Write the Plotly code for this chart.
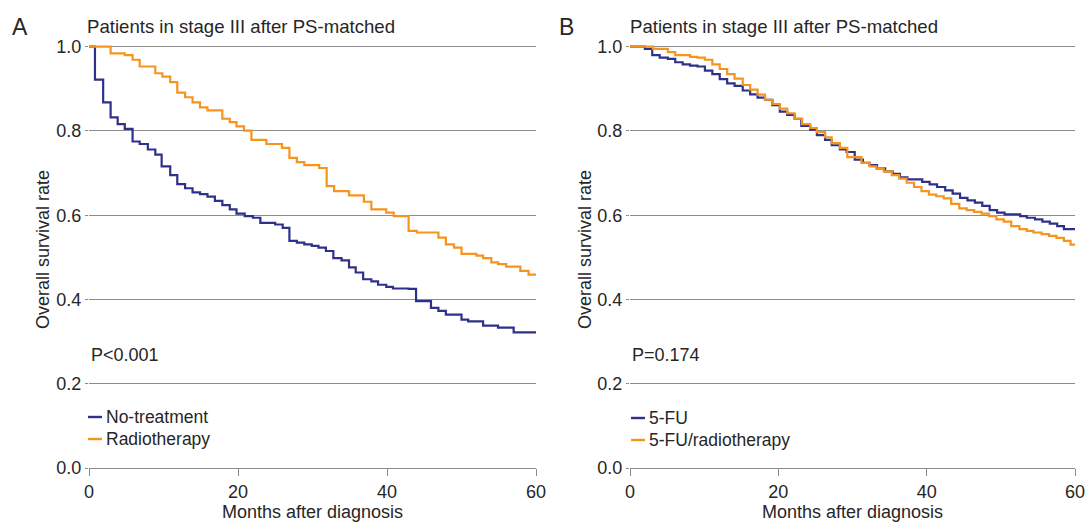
import plotly.graph_objects as go
from plotly.subplots import make_subplots

# ---------------- data ----------------
# Panel A: No-treatment vs Radiotherapy
months_a_none = [0, 0.8, 1.9, 2.9, 3.85, 4.8, 5.85, 6.8, 7.9, 8.9,
                 9.75, 10.9, 11.85, 12.9, 13.9, 14.9, 15.9, 16.9, 17.9, 18.9,
                 19.8, 20.9, 22, 23, 25, 26, 26.9, 27.9, 28.9, 29.9,
                 30.8, 31.8, 32.8, 33.9, 34.9, 35.8, 36.8, 37.9, 38.8, 39.9,
                 40.8, 42.9, 43.9, 45.9, 46.9, 47.9, 50, 50.9, 52.9, 54.9,
                 57, 60]
surv_a_none = [1.0, 0.922, 0.868, 0.832, 0.816, 0.805, 0.775, 0.769, 0.756, 0.744,
               0.716, 0.695, 0.674, 0.664, 0.654, 0.650, 0.644, 0.634, 0.624, 0.614,
               0.604, 0.598, 0.594, 0.582, 0.578, 0.570, 0.539, 0.535, 0.531, 0.527,
               0.523, 0.515, 0.498, 0.493, 0.476, 0.464, 0.448, 0.443, 0.435, 0.430,
               0.426, 0.425, 0.396, 0.380, 0.373, 0.364, 0.352, 0.348, 0.338, 0.333,
               0.322, 0.322]

months_a_rt = [0, 2.9, 4.8, 5.85, 6.8, 8.9, 9.85, 10.9, 11.85, 12.9,
               13.9, 14.9, 15.9, 17.9, 18.9, 19.8, 20.8, 21.8, 23.8, 25.9,
               26.9, 27.9, 28.9, 30.9, 31.9, 32.9, 34.9, 36.9, 37.9, 39.9,
               40.9, 42.9, 44, 46.9, 47.9, 49, 50, 52, 52.9, 54,
               54.9, 56, 57.9, 59, 60]
surv_a_rt = [1.0, 0.984, 0.980, 0.969, 0.953, 0.937, 0.929, 0.916, 0.891, 0.880,
             0.868, 0.856, 0.849, 0.829, 0.821, 0.811, 0.801, 0.779, 0.769, 0.760,
             0.736, 0.726, 0.719, 0.712, 0.669, 0.657, 0.647, 0.632, 0.614, 0.606,
             0.598, 0.563, 0.559, 0.547, 0.531, 0.523, 0.508, 0.504, 0.498, 0.488,
             0.484, 0.478, 0.468, 0.459, 0.459]

# Panel B: 5-FU vs 5-FU/radiotherapy
months_b_fu = [0, 2.0, 3.0, 4.0, 5.1, 6.1, 7.1, 8.1, 9.1, 10.1,
               11.1, 12.1, 13.1, 14.1, 15.2, 16.2, 17.2, 18.2, 19.2, 20.2,
               21.2, 22.2, 23.1, 24.3, 25.2, 26.3, 27.2, 28.3, 29.2, 30.3,
               31.4, 32.3, 33.3, 34.4, 35.4, 36.4, 37.4, 39.4, 40.4, 41.4,
               42.5, 43.5, 44.5, 45.5, 46.5, 47.5, 48.5, 49.5, 50.5, 52.6,
               53.5, 54.6, 55.6, 56.6, 57.6, 58.5, 60]
surv_b_fu = [1.0, 0.995, 0.980, 0.974, 0.971, 0.963, 0.958, 0.955, 0.953, 0.943,
             0.935, 0.923, 0.913, 0.907, 0.896, 0.887, 0.879, 0.874, 0.861, 0.846,
             0.838, 0.829, 0.812, 0.803, 0.790, 0.779, 0.766, 0.756, 0.750, 0.732,
             0.724, 0.719, 0.711, 0.704, 0.698, 0.690, 0.685, 0.679, 0.673, 0.667,
             0.659, 0.651, 0.641, 0.635, 0.630, 0.622, 0.612, 0.606, 0.602, 0.598,
             0.594, 0.590, 0.585, 0.580, 0.574, 0.567, 0.567]

months_b_furt = [0, 3.1, 5.1, 6.1, 8.1, 9.1, 10.1, 11.1, 12.1, 13.1,
                 14.1, 15.2, 16.2, 17.2, 18.2, 19.2, 20.2, 21.2, 22.2, 23.2,
                 24.3, 25.2, 26.3, 27.2, 28.3, 29.3, 31.2, 32.3, 33.2, 34.2,
                 35.3, 36.3, 37.3, 38.3, 39.3, 40.3, 41.3, 42.3, 43.3, 44.4,
                 45.4, 46.4, 47.4, 48.4, 49.4, 50.4, 51.4, 52.5, 53.5, 54.4,
                 55.5, 56.5, 57.5, 58.5, 59.4, 60]
surv_b_furt = [1.0, 0.995, 0.987, 0.980, 0.976, 0.974, 0.969, 0.958, 0.947, 0.935,
               0.924, 0.909, 0.898, 0.886, 0.874, 0.864, 0.853, 0.842, 0.829, 0.816,
               0.807, 0.797, 0.785, 0.771, 0.760, 0.738, 0.724, 0.716, 0.711, 0.704,
               0.695, 0.687, 0.677, 0.667, 0.657, 0.649, 0.645, 0.640, 0.627, 0.616,
               0.612, 0.608, 0.604, 0.598, 0.590, 0.585, 0.574, 0.567, 0.563, 0.559,
               0.555, 0.551, 0.546, 0.539, 0.530, 0.530]

x_ticks = [0, 20, 40, 60]
y_ticks = [0.0, 0.2, 0.4, 0.6, 0.8, 1.0]
y_tick_text = ["0.0", "0.2", "0.4", "0.6", "0.8", "1.0"]

panel_title = "Patients in stage III after PS-matched"
x_title = "Months after diagnosis"
y_title = "Overall survival rate"
names_a = ["No-treatment", "Radiotherapy"]
names_b = ["5-FU", "5-FU/radiotherapy"]
p_values = ["P&lt;0.001", "P=0.174"]

# ---------------- style ----------------
BLUE = "#2e3189"
ORANGE = "#f7941d"
GRID = "#8c8c8c"
TXT = "#262626"
FONT = "Liberation Sans, Arial, sans-serif"

fig = make_subplots(rows=1, cols=2)

series = [
    (months_a_none, surv_a_none, BLUE, names_a[0], 1),
    (months_a_rt, surv_a_rt, ORANGE, names_a[1], 1),
    (months_b_fu, surv_b_fu, BLUE, names_b[0], 2),
    (months_b_furt, surv_b_furt, ORANGE, names_b[1], 2),
]
for x, y, c, n, col in series:
    fig.add_trace(go.Scatter(x=x, y=y, mode="lines", line=dict(color=c, width=2.2, shape="hv"),
                             name=n, showlegend=False), row=1, col=col)

W, H = 1088, 523
ML, MR, MT, MB = 89, 13, 45, 55
PW = W - ML - MR
PH = H - MT - MB

def px_x(p):
    return (p - ML) / PW

def px_y(p):
    return (H - MB - p) / PH

dom_a = [0, px_x(536)]
dom_b = [px_x(630), 1]

for i, dom in ((1, dom_a), (2, dom_b)):
    fig.update_xaxes(domain=dom, range=[0, 60], tickvals=x_ticks, ticks="outside", ticklen=7,
                     tickcolor=GRID, showline=True, linecolor=GRID, linewidth=1, showgrid=False,
                     zeroline=False, automargin=False,
                     tickfont=dict(size=18, color=TXT, family=FONT),
                     title=dict(text=x_title, font=dict(size=18, color=TXT, family=FONT),
                                standoff=2),
                     row=1, col=i)
    fig.update_yaxes(range=[0, 1.004], tickvals=y_ticks, ticktext=y_tick_text, ticks="outside",
                     ticklen=3, tickcolor=GRID, showgrid=True, gridcolor=GRID, gridwidth=1,
                     showline=False, zeroline=False, automargin=False,
                     tickfont=dict(size=18, color=TXT, family=FONT),
                     row=1, col=i)

ann = []
# panel letters, titles, y-axis titles
for letter, lx, tx, yx in (("A", 20, 85, 43), ("B", 566, 628, 585)):
    ann.append(dict(text=letter, xref="paper", yref="paper", x=px_x(lx), y=px_y(27),
                    xanchor="center", yanchor="middle", showarrow=False,
                    font=dict(size=23, color=TXT, family=FONT)))
    ann.append(dict(text=panel_title, xref="paper", yref="paper", x=px_x(tx), y=px_y(27),
                    xanchor="left", yanchor="middle", showarrow=False,
                    font=dict(size=18.6, color=TXT, family=FONT)))
    ann.append(dict(text=y_title, xref="paper", yref="paper", x=px_x(yx), y=px_y(250),
                    xanchor="center", yanchor="middle", textangle=-90, showarrow=False,
                    font=dict(size=18, color=TXT, family=FONT)))

# p-values
for pv, xr, yr in ((p_values[0], "x", "y"), (p_values[1], "x2", "y2")):
    ann.append(dict(text=pv, xref=xr, yref=yr, x=0, y=px_y(355), xanchor="left", yanchor="middle",
                    showarrow=False, font=dict(size=18, color=TXT, family=FONT)))

# legends: short colored key line + label
legend_rows = [
    (names_a[0], BLUE, 88, 417), (names_a[1], ORANGE, 88, 439),
    (names_b[0], BLUE, 631, 418), (names_b[1], ORANGE, 631, 440),
]
shapes = []
for name, col, lx, ly in legend_rows:
    shapes.append(dict(type="line", xref="paper", yref="paper",
                       x0=px_x(lx), x1=px_x(lx + 14), y0=px_y(ly), y1=px_y(ly),
                       line=dict(color=col, width=2.4)))
    ann.append(dict(text=name, xref="paper", yref="paper",
                    x=px_x(lx + 16), y=px_y(ly), xanchor="left", yanchor="middle", showarrow=False,
                    font=dict(size=17.5, color=TXT, family=FONT)))

fig.update_layout(width=W, height=H, margin=dict(l=ML, r=MR, t=MT, b=MB, autoexpand=False),
                  plot_bgcolor="white", paper_bgcolor="white", annotations=ann, shapes=shapes,
                  font=dict(family=FONT, color=TXT))

fig.write_html("out.html", config={"displayModeBar": False},
               post_script="document.body.style.margin='0';document.body.style.overflow='hidden';")
